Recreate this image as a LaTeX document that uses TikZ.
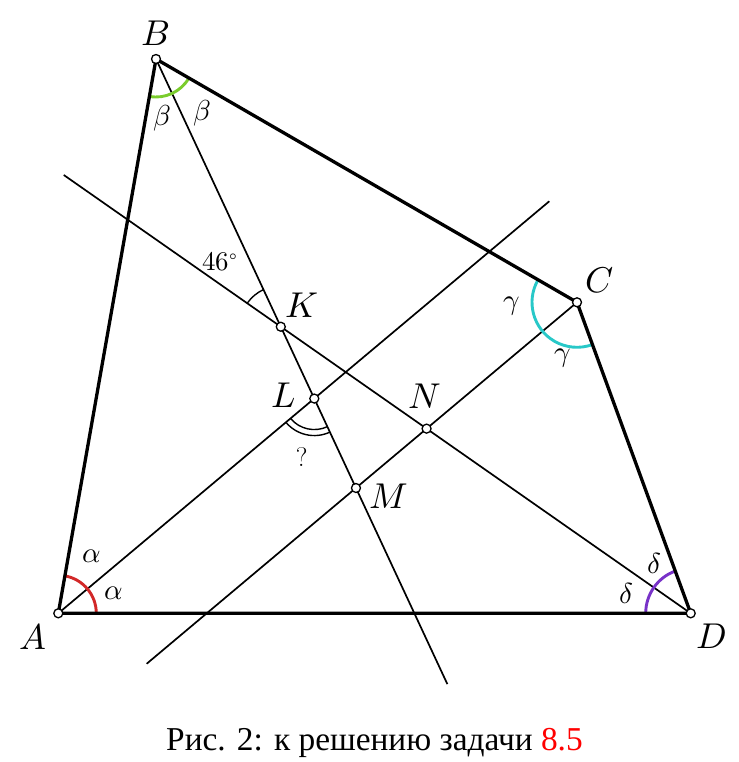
\documentclass[tikz,border=0pt]{standalone}
\usepackage{fontspec}
\usepackage{unicode-math}
\setmathfont{Latin Modern Math}
\newfontfamily\capfont{Liberation Serif}
\usetikzlibrary{calc,angles}
\definecolor{cgreen}{RGB}{122,204,44}
\definecolor{ccyan}{RGB}{40,200,200}
\definecolor{cred}{RGB}{210,40,40}
\definecolor{cpurple}{RGB}{120,50,200}
\begin{document}
\begin{tikzpicture}[x=1bp,y=-1bp,
  sideline/.style={line width=3.3bp, line join=round},
  thinl/.style={line width=1.7bp},
  dot/.style={circle,draw,fill=white,inner sep=0pt,minimum size=9bp,line width=1.3bp},
  lab/.style={font=\fontsize{36}{42}\selectfont, inner sep=0pt},
  glab/.style={font=\fontsize{29}{34}\selectfont, inner sep=0pt},
  nlab/.style={font=\fontsize{27}{32}\selectfont, inner sep=0pt},
  amark/.style={line width=2.9bp},
]
\useasboundingbox (0,0) rectangle (739,762);
\coordinate (A) at (58.3,613.3);
\coordinate (B) at (156,59);
\coordinate (C) at (577,302.3);
\coordinate (D) at (690.7,613.3);
% bisector helpers
\coordinate (Ba) at ($(B)!100bp!(A)$);
\coordinate (Bc) at ($(B)!100bp!(C)$);
\coordinate (Bm) at ($(Ba)!0.5!(Bc)$);
\coordinate (Ab) at ($(A)!100bp!(B)$);
\coordinate (Ad) at ($(A)!100bp!(D)$);
\coordinate (Am) at ($(Ab)!0.5!(Ad)$);
\coordinate (Cb) at ($(C)!100bp!(B)$);
\coordinate (Cd) at ($(C)!100bp!(D)$);
\coordinate (Cm) at ($(Cb)!0.5!(Cd)$);
\coordinate (Da) at ($(D)!100bp!(A)$);
\coordinate (Dc) at ($(D)!100bp!(C)$);
\coordinate (Dm) at ($(Da)!0.5!(Dc)$);
\coordinate (K) at (intersection of B--Bm and D--Dm);
\coordinate (L) at (intersection of B--Bm and A--Am);
\coordinate (M) at (intersection of B--Bm and C--Cm);
\coordinate (N) at (intersection of D--Dm and C--Cm);
\coordinate (Be) at ($(B)!689.7bp!(Bm)$);
\coordinate (De) at ($(D)!765bp!(Dm)$);
\coordinate (Ae) at ($(A)!641bp!(Am)$);
\coordinate (Ce) at ($(C)!562bp!(Cm)$);
% bisectors
\draw[thinl] (B) -- (Be);
\draw[thinl] (D) -- (De);
\draw[thinl] (A) -- (Ae);
\draw[thinl] (C) -- (Ce);
% angle marks
\pic[draw=cgreen, amark, angle radius=38bp] {angle=A--B--C};
\pic[draw=ccyan, amark, angle radius=45bp] {angle=B--C--D};
\pic[draw=cred, amark, angle radius=38bp] {angle=D--A--B};
\pic[draw=cpurple, amark, angle radius=45bp] {angle=C--D--A};
\pic[draw, line width=1.4bp, angle radius=41bp] {angle=B--K--De};
\pic[draw, line width=1.4bp, angle radius=31bp] {angle=A--L--M};
\pic[draw, line width=1.4bp, angle radius=37bp] {angle=A--L--M};
% sides
\draw[sideline] (A) -- (B) -- (C) -- (D) -- cycle;
% points
\foreach \p in {A,B,C,D,K,L,M,N} \node[dot] (d\p) at (\p) {};
% labels
\node[lab] (lB) at (156,33.3) {$B$};
\node[lab] (lK) at (301.7,305) {$K$};
\node[lab] (lC) at (599.3,280) {$C$};
\node[lab] (lN) at (425,396.7) {$N$};
\node[lab] (lL) at (283.3,395) {$L$};
\node[lab] (lM) at (388.3,496.7) {$M$};
\node[lab] (lA) at (33.3,636.7) {$A$};
\node[lab] (lD) at (711.7,636.7) {$D$};
\node[glab] (b1) at (162,118) {$\beta$};
\node[glab] (b2) at (202,113) {$\beta$};
\node[glab] (g1) at (511.7,306.7) {$\gamma$};
\node[glab] (g2) at (562.7,358.3) {$\gamma$};
\node[glab] (a1) at (91.7,556.7) {$\alpha$};
\node[glab] (a2) at (113.3,593.3) {$\alpha$};
\node[glab] (e1) at (654,563.3) {$\delta$};
\node[glab] (e2) at (626.7,593.3) {$\delta$};
\node[nlab] (ang) at (220,262) {$46^\circ$};
\node[nlab] (q) at (301.7,456.7) {?};
\node[anchor=base, font=\capfont\fontsize{33.5}{38}\selectfont] (cap) at (374.5,750.7) {Рис. 2: к решению задачи \textcolor{red}{8.5}};
\end{tikzpicture}
\end{document}
